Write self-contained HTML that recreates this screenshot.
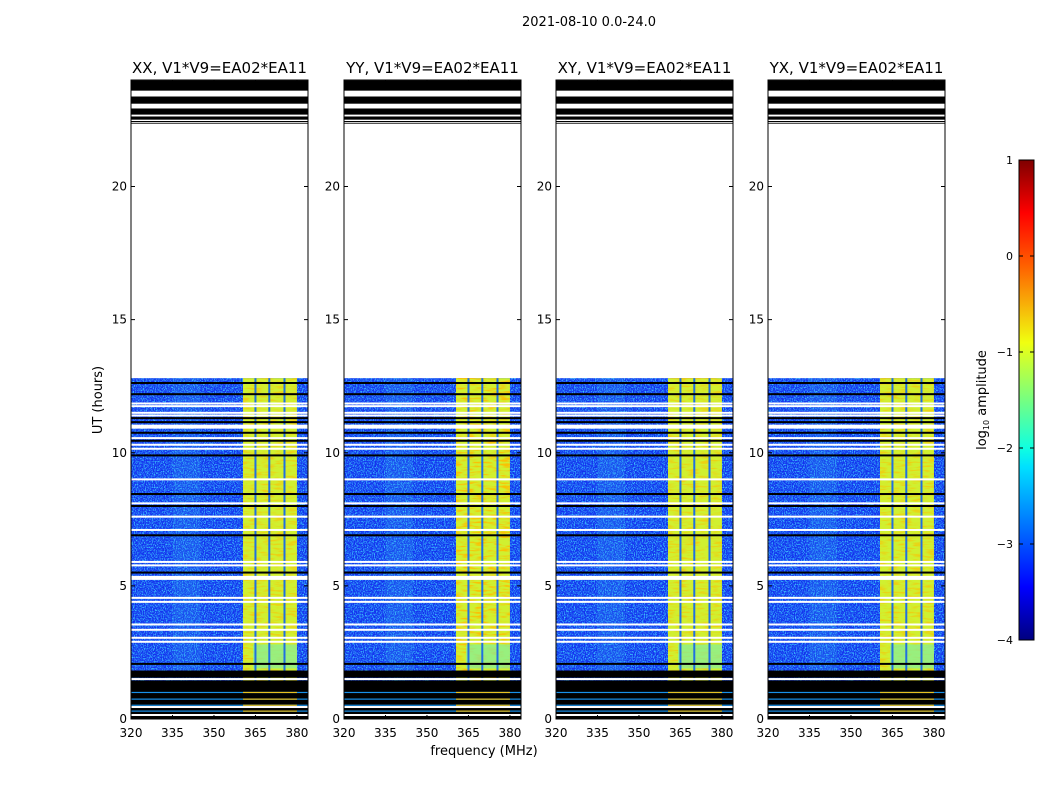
<!DOCTYPE html>
<html><head><meta charset="utf-8">
<style>
html,body{margin:0;padding:0;background:#fff;}
svg text{font-family:"DejaVu Sans","Liberation Sans",sans-serif;fill:#000;}
</style></head>
<body>
<svg id="fig" width="1050" height="800" viewBox="0 0 1050 800" xmlns="http://www.w3.org/2000/svg">
<defs>
  <filter id="speck" x="0" y="0" width="100%" height="100%">
    <feTurbulence type="fractalNoise" baseFrequency="0.9 0.7" numOctaves="2" seed="4" result="n"/>
    <feColorMatrix in="n" type="matrix" values="0 0 0 0 0.05  0 0 0 0 0.65  0 0 0 0 1  0 0 0 3.2 -1.4"/>
  </filter>
  <filter id="speck2" x="0" y="0" width="100%" height="100%">
    <feTurbulence type="fractalNoise" baseFrequency="0.08 0.5" numOctaves="2" seed="9" result="n"/>
    <feColorMatrix in="n" type="matrix" values="0 0 0 0 1  0 0 0 0 0.5  0 0 0 0 0  0 0 0 4 -1.9"/>
  </filter>
  <linearGradient id="jet" x1="0" y1="1" x2="0" y2="0">
    <stop offset="0" stop-color="#00007f"/>
    <stop offset="0.11" stop-color="#0000ff"/>
    <stop offset="0.36" stop-color="#00e0ff"/>
    <stop offset="0.4" stop-color="#10ffe0"/>
    <stop offset="0.62" stop-color="#f0ff10"/>
    <stop offset="0.78" stop-color="#ff6000"/>
    <stop offset="0.89" stop-color="#ff0000"/>
    <stop offset="1" stop-color="#7f0000"/>
  </linearGradient>
</defs>
<text x="589" y="26" font-size="13" text-anchor="middle">2021-08-10 0.0-24.0</text>
<text x="102" y="400" font-size="13" text-anchor="middle" transform="rotate(-90 102 400)">UT (hours)</text>
<text x="484" y="755" font-size="13" text-anchor="middle">frequency (MHz)</text>
<g id="panels"></g>
<g id="cbar"></g>
</svg>
<script>
// ---- data ----
const panelTitles = ["XX, V1*V9=EA02*EA11","YY, V1*V9=EA02*EA11","XY, V1*V9=EA02*EA11","YX, V1*V9=EA02*EA11"];
const freqTicks = [320,335,350,365,380];
const hourTicks = [0,5,10,15,20];
const dataEndHour = 12.8;
const rfiBand = [360.5,380];          // strong RFI band (MHz)
const rfiGaps = [365,370,375.5];       // dark channels inside band
const cyanBand = [335,345];           // weak emission band
const blackLines = [12.62,12.2,11.3,11.15,10.75,10.45,9.9,8.45,8.0,6.9,5.5,2.07];
const whiteLines = [11.85,11.75,11.5,11.4,10.55,10.3,10.15,9.0,8.1,7.6,7.1,5.9,5.77,4.55,4.4,3.55,3.35,3.05,2.9,1.5,0.45,0.15];
const thickWhite = [10.98,5.3];
const blackBlocks = [[1.55,1.82],[0.0,1.45]];
const colorLines = [1.0,0.75,0.52,0.3];
const topBlack = [[23.6,23.98],[23.11,23.38],[22.7,22.93],[22.51,22.63],[22.42,22.46],[22.36,22.39]];
const cbarTicks = [1,0,-1,-2,-3,-4];

// ---- layout ----
const NS="http://www.w3.org/2000/svg";
const panelX=[131,344,556,768], PW=177, Y0=719, Y24=80;
const fmin=320, fmax=384;
const yS=h=>Y0-(h/24)*(Y0-Y24);
function mk(tag,attrs,parent){const e=document.createElementNS(NS,tag);for(const k in attrs)e.setAttribute(k,attrs[k]);parent.appendChild(e);return e;}
const root=document.getElementById('panels');

panelTitles.forEach((title,pi)=>{
  const x0=panelX[pi];
  const xS=f=>x0+(f-fmin)/(fmax-fmin)*PW;
  const g=mk('g',{},root);
  
  
  const yTop=yS(dataEndHour);
  const bw=xS(rfiBand[1])-xS(rfiBand[0]);
  const base=mk('rect',{x:x0,y:yTop,width:PW,height:Y0-yTop,fill:'#1432ee'},g);
  
  
  mk('rect',{x:x0,y:yTop,width:PW,height:Y0-yTop,filter:'url(#speck)',opacity:0.95},g);
  const cb=mk('rect',{x:xS(cyanBand[0]),y:yTop,width:xS(cyanBand[1])-xS(cyanBand[0]),height:Y0-yTop,fill:'#30a8f0',opacity:0.2},g);
  
  
  const rb=mk('rect',{x:xS(rfiBand[0]),y:yTop,width:bw,height:Y0-yTop,fill:'#d0f030'},g);
  
  
  mk('rect',{x:xS(rfiBand[0]),y:yTop,width:bw,height:Y0-yTop,filter:'url(#speck2)',opacity:pi===1?0.9:0.6},g);
  mk('rect',{x:xS(rfiBand[0])+10,y:yS(2.8),width:bw-10,height:yS(1.9)-yS(2.8),fill:'#80f0a0',opacity:0.7},g);
  rfiGaps.forEach(f=>{
    const l=mk('rect',{x:xS(f)-1,y:yTop,width:2,height:Y0-yTop,fill:'#2070e0'},g);
    
    
  });
  blackLines.forEach(h=>{const r=mk('rect',{x:x0,y:yS(h)-1,width:PW,height:2,fill:'#000'},g);
    });
  blackBlocks.forEach(b=>{const r=mk('rect',{x:x0,y:yS(b[1]),width:PW,height:yS(b[0])-yS(b[1]),fill:'#000'},g);
    });
  colorLines.forEach(h=>{const r=mk('rect',{x:x0,y:yS(h)-0.5,width:PW,height:1.2,fill:'#1890e8'},g);
    
    mk('rect',{x:xS(rfiBand[0]),y:yS(h)-0.5,width:bw,height:1.2,fill:'#e8c020'},g);});
  whiteLines.forEach(h=>{const r=mk('rect',{x:x0,y:yS(h)-1,width:PW,height:2,fill:'#fff'},g);
    });
  thickWhite.forEach(h=>{const r=mk('rect',{x:x0,y:yS(h)-2,width:PW,height:4,fill:'#fff'},g);
    });
  topBlack.forEach(b=>{const r=mk('rect',{x:x0,y:yS(b[1]),width:PW,height:yS(b[0])-yS(b[1]),fill:'#000'},g);
    });
  const fr=mk('rect',{x:x0,y:Y24,width:PW,height:Y0-Y24,fill:'none',stroke:'#000','stroke-width':1},g);
  
  const t=mk('text',{x:x0+PW/2,y:73,'font-size':15,'text-anchor':'middle'},g);
  t.textContent=title;
  
  freqTicks.forEach(f=>{
    mk('line',{x1:xS(f),x2:xS(f),y1:Y0,y2:Y0-4,stroke:'#000'},g);
    mk('line',{x1:xS(f),x2:xS(f),y1:Y24,y2:Y24+4,stroke:'#000'},g);
    const tx=mk('text',{x:xS(f),y:737,'font-size':12,'text-anchor':'middle'},g);
    tx.textContent=f;
    
  });
  hourTicks.forEach(h=>{
    mk('line',{x1:x0,x2:x0+4,y1:yS(h),y2:yS(h),stroke:'#000'},g);
    mk('line',{x1:x0+PW,x2:x0+PW-4,y1:yS(h),y2:yS(h),stroke:'#000'},g);
    const ty=mk('text',{x:x0-4,y:yS(h)+4,'font-size':12,'text-anchor':'end'},g);
    ty.textContent=h;
    
  });
});

// colorbar
const cg=document.getElementById('cbar');
const CB={x:1019,w:15,top:160,bot:640};
const cS=v=>CB.bot-(v+4)/5*(CB.bot-CB.top);
const cr=mk('rect',{x:CB.x,y:CB.top,width:CB.w,height:CB.bot-CB.top,fill:'url(#jet)',stroke:'#000'},cg);

cbarTicks.forEach(v=>{
  mk('line',{x1:CB.x,x2:CB.x+4,y1:cS(v),y2:cS(v),stroke:'#000'},cg);
  mk('line',{x1:CB.x+CB.w,x2:CB.x+CB.w-4,y1:cS(v),y2:cS(v),stroke:'#000'},cg);
  const t=mk('text',{x:CB.x-6,y:cS(v)+4,'font-size':11,'text-anchor':'end'},cg);
  t.textContent=(v<0?'\u2212'+(-v):v);
  
});
const cl=mk('text',{x:986,y:400,'font-size':13,'text-anchor':'middle',transform:'rotate(-90 986 400)'},cg);

cl.innerHTML='log<tspan font-size="8" dy="3">10</tspan><tspan dy="-3"> amplitude</tspan>';
</script>
</body></html>
